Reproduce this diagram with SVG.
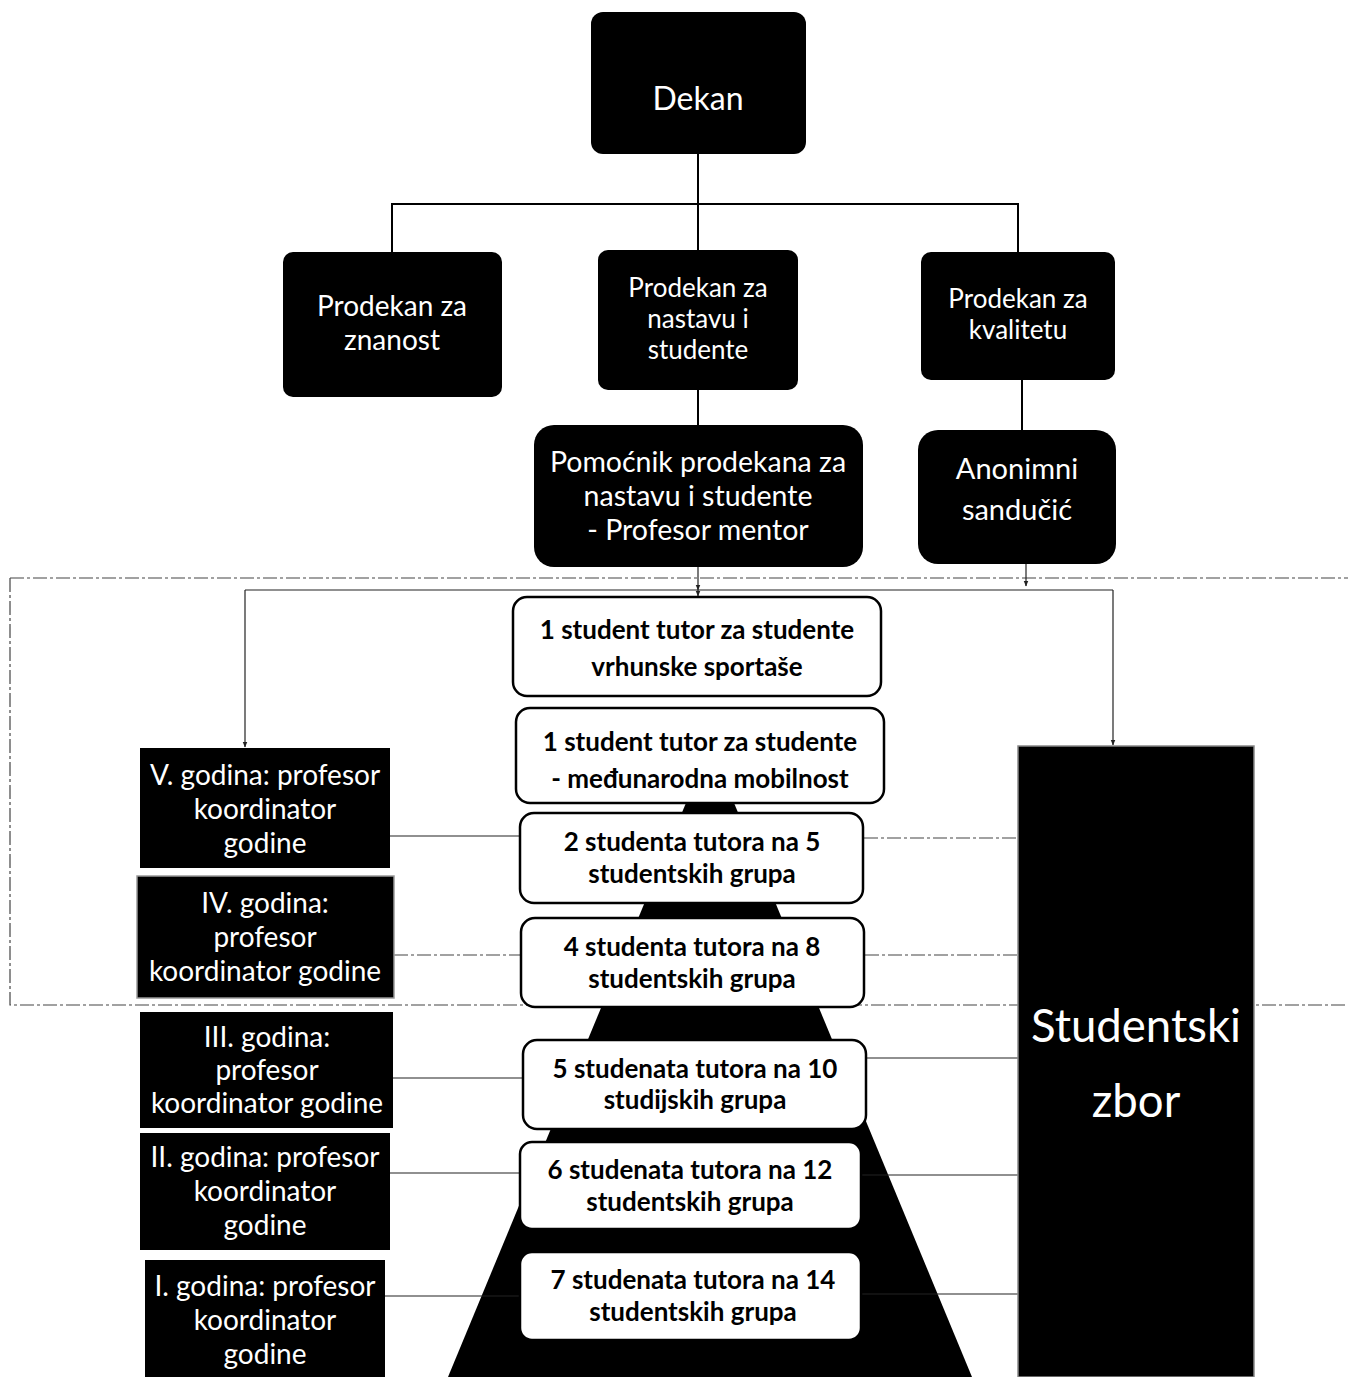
<svg xmlns="http://www.w3.org/2000/svg" width="1348" height="1377" viewBox="0 0 1348 1377">
<defs>
<marker id="ah" viewBox="0 0 10 10" refX="9" refY="5" markerWidth="5" markerHeight="5" orient="auto"><path d="M0,1 L10,5 L0,9 z" fill="#222"/></marker>
<style>
.blk{fill:#000;}
.wt{fill:#fff;stroke:#000;stroke-width:2.5;}
.tw{fill:#fff;font-family:Lato,"Open Sans",sans-serif;text-anchor:middle;}
.tb{fill:#000;font-family:Lato,"Open Sans",sans-serif;text-anchor:middle;font-weight:bold;}
.ln{stroke:#000;stroke-width:2;fill:none;}
.thin{stroke:#222;stroke-width:1.2;fill:none;}
.dash{stroke:#444;stroke-width:1.2;fill:none;stroke-dasharray:14 3 3 3;}
</style>
</defs>
<rect width="1348" height="1377" fill="#fff"/>
<polygon points="710,745 448,1377 972,1377" fill="#000"/>
<g id="connectors">
<path class="ln" d="M698,154 V204 M392,252 V204 H1018 V252 M698,204 V250 M698,390 V425 M1022,380 V430"/>
<path class="dash" d="M10,578 H1348 M10,578 V1005 H1348"/>
<path class="thin" d="M698,567 V590" marker-end="url(#ah)"/>
<path class="thin" d="M1026,564 V586" marker-end="url(#ah)"/>
<path class="thin" d="M245,590 H1113"/>
<path class="thin" d="M245,590 V747" marker-end="url(#ah)"/>
<path class="thin" d="M1113,590 V745" marker-end="url(#ah)"/>
<path class="thin" d="M698,590 V596" marker-end="url(#ah)"/>
<path class="thin" d="M390,836 H519"/>
<path class="dash" d="M394,955 H520"/>
<path class="thin" d="M393,1078 H522"/>
<path class="thin" d="M390,1173 H519"/>
<path class="thin" d="M385,1296 H519"/>
<path class="dash" d="M864,838 H1017"/>
<path class="dash" d="M865,955 H1017"/>
<path class="thin" d="M866,1058 H1018"/>
<path class="thin" d="M861,1175 H1018"/>
<path class="thin" d="M861,1294 H1018"/>
</g>
<g id="dekan"><rect class="blk" x="591" y="12" width="215" height="142" rx="12"/><text class="tw" x="698" y="110" font-size="32">Dekan</text></g>
<g id="prodekan-znanost"><rect class="blk" x="283" y="252" width="219" height="145" rx="10"/><text class="tw" font-size="28"><tspan x="392" y="316">Prodekan za</tspan><tspan x="392" y="350">znanost</tspan></text></g>
<g id="prodekan-nastava"><rect class="blk" x="598" y="250" width="200" height="140" rx="10"/><text class="tw" font-size="26"><tspan x="698" y="297">Prodekan za</tspan><tspan x="698" y="328">nastavu i</tspan><tspan x="698" y="359">studente</tspan></text></g>
<g id="prodekan-kvaliteta"><rect class="blk" x="921" y="252" width="194" height="128" rx="10"/><text class="tw" font-size="26"><tspan x="1018" y="308">Prodekan za</tspan><tspan x="1018" y="339">kvalitetu</tspan></text></g>
<g id="pomocnik"><rect class="blk" x="534" y="425" width="329" height="142" rx="20"/><text class="tw" font-size="28.5"><tspan x="698" y="472">Pomoćnik prodekana za</tspan><tspan x="698" y="506">nastavu i studente</tspan><tspan x="698" y="540">- Profesor mentor</tspan></text></g>
<g id="anonimni"><rect class="blk" x="918" y="430" width="198" height="134" rx="20"/><text class="tw" font-size="29"><tspan x="1017" y="479">Anonimni</tspan><tspan x="1017" y="520">sandučić</tspan></text></g>
<g id="tutor-sport"><rect class="wt" x="513" y="597" width="368" height="99" rx="14"/><text class="tb" font-size="26"><tspan x="697" y="639">1 student tutor za studente</tspan><tspan x="697" y="676">vrhunske sportaše</tspan></text></g>
<g id="tutor-mobilnost"><rect class="wt" x="516" y="708" width="368" height="95" rx="14"/><text class="tb" font-size="26"><tspan x="700" y="751">1 student tutor za studente</tspan><tspan x="700" y="788">- međunarodna mobilnost</tspan></text></g>
<g id="tutor-5"><rect class="wt" x="520" y="813" width="343" height="90" rx="14"/><text class="tb" font-size="26"><tspan x="692" y="851">2 studenta tutora na 5</tspan><tspan x="692" y="883">studentskih grupa</tspan></text></g>
<g id="tutor-4"><rect class="wt" x="521" y="918" width="343" height="89" rx="14"/><text class="tb" font-size="26"><tspan x="692" y="956">4 studenta tutora na 8</tspan><tspan x="692" y="988">studentskih grupa</tspan></text></g>
<g id="tutor-3"><rect class="wt" x="523" y="1040" width="343" height="89" rx="14"/><text class="tb" font-size="26"><tspan x="695" y="1078">5 studenata tutora na 10</tspan><tspan x="695" y="1109">studijskih grupa</tspan></text></g>
<g id="tutor-2"><rect class="wt" x="520" y="1142" width="341" height="87" rx="12" stroke-width="1"/><text class="tb" font-size="26"><tspan x="690" y="1179">6 studenata tutora na 12</tspan><tspan x="690" y="1211">studentskih grupa</tspan></text></g>
<g id="tutor-1"><rect class="wt" x="520" y="1252" width="341" height="88" rx="12" stroke-width="1"/><text class="tb" font-size="26"><tspan x="693" y="1289">7 studenata tutora na 14</tspan><tspan x="693" y="1321">studentskih grupa</tspan></text></g>
<g id="godina-5"><rect class="blk" x="140" y="748" width="250" height="120"/><text class="tw" font-size="28"><tspan x="265" y="785">V. godina: profesor</tspan><tspan x="265" y="819">koordinator</tspan><tspan x="265" y="853">godine</tspan></text></g>
<g id="godina-4"><rect class="blk" x="137" y="876" width="257" height="122" stroke="#999" stroke-width="1.5"/><text class="tw" font-size="28"><tspan x="265" y="913">IV. godina:</tspan><tspan x="265" y="947">profesor</tspan><tspan x="265" y="981">koordinator godine</tspan></text></g>
<g id="godina-3"><rect class="blk" x="140" y="1012" width="253" height="116"/><text class="tw" font-size="28"><tspan x="267" y="1047">III. godina:</tspan><tspan x="267" y="1080">profesor</tspan><tspan x="267" y="1113">koordinator godine</tspan></text></g>
<g id="godina-2"><rect class="blk" x="140" y="1133" width="250" height="117"/><text class="tw" font-size="28"><tspan x="265" y="1167">II. godina: profesor</tspan><tspan x="265" y="1201">koordinator</tspan><tspan x="265" y="1235">godine</tspan></text></g>
<g id="godina-1"><rect class="blk" x="145" y="1260" width="240" height="117"/><text class="tw" font-size="28"><tspan x="265" y="1296">I. godina: profesor</tspan><tspan x="265" y="1330">koordinator</tspan><tspan x="265" y="1364">godine</tspan></text></g>
<g id="studentski-zbor"><rect class="blk" x="1018" y="746" width="236" height="631" stroke="#888" stroke-width="1.5"/><text class="tw" font-size="45.5"><tspan x="1136" y="1042">Studentski</tspan><tspan x="1136" y="1117">zbor</tspan></text></g>
</svg>
